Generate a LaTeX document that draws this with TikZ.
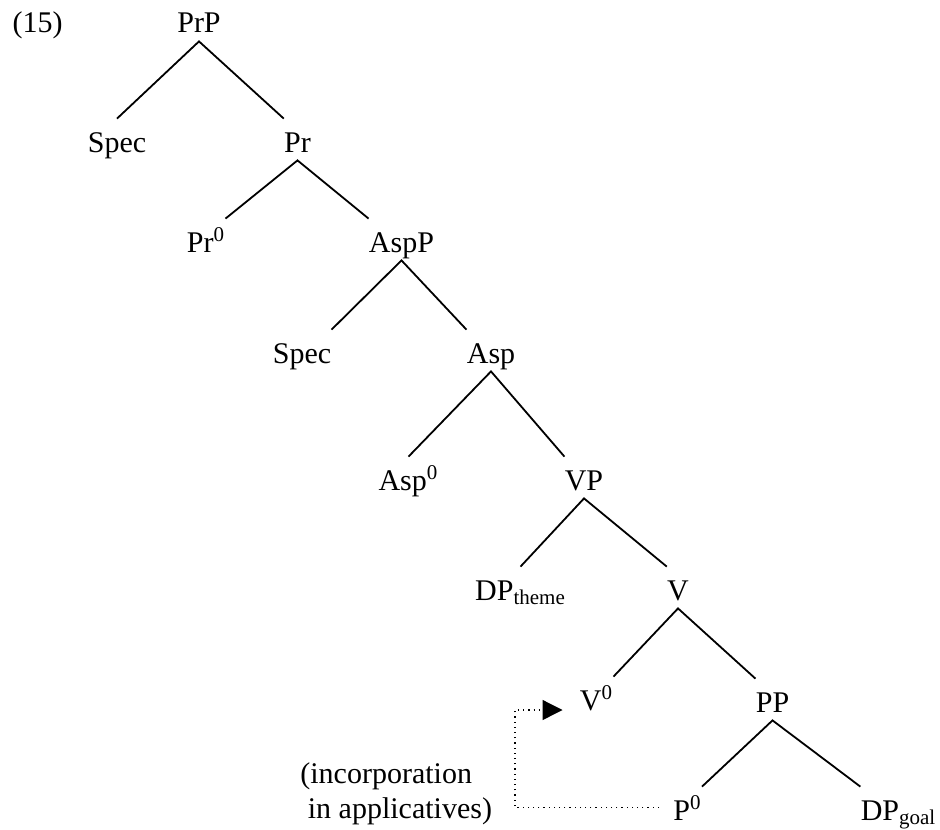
\documentclass[tikz,border=0pt]{standalone}
\usepackage{fontspec}
\setmainfont{Liberation Serif}
\usetikzlibrary{arrows.meta}
\tikzset{
	lbl/.style={font=\fontsize{15}{17.5}\selectfont, inner xsep=0pt, inner ysep=0.5pt,
		text height=16pt, text depth=3.5pt, anchor=base},
	branch/.style={line width=0.9pt},
	move/.style={dotted, line width=0.6pt, -{Triangle[length=10pt,width=10pt]}}
}
\begin{document}
\begin{tikzpicture}[x=0.5pt,y=-0.5pt]
\useasboundingbox (0,0) rectangle (940,829);

%Numero de l'exemple
\node[lbl] (exnum) at (37.5,33) {(15)};

%Noeuds de l'arbre
\node[lbl] (PrP) at (199,33) {PrP};
\node[lbl] (SpecA) at (117,152) {Spec};
\node[lbl] (Pr) at (297.5,152) {Pr};
\node[lbl] (PrO) at (206,252) {Pr\textsuperscript{0}};
\node[lbl] (AspP) at (401.5,252) {AspP};
\node[lbl] (SpecB) at (302,363) {Spec};
\node[lbl] (Asp) at (491,363) {Asp};
\node[lbl] (AspO) at (408.5,490) {Asp\textsuperscript{0}};
\node[lbl] (VP) at (584,490) {VP};
\node[lbl] (DPt) at (520.5,600) {DP\textsubscript{theme}};
\node[lbl] (V) at (678,600) {V};
\node[lbl] (VO) at (596.5,710) {V\textsuperscript{0}};
\node[lbl] (PP) at (772.5,712) {PP};
\node[lbl] (PO) at (687.5,820) {P\textsuperscript{0}};
\node[lbl] (DPg) at (898.5,820) {DP\textsubscript{goal}};

%Branches
\draw[branch] (SpecA.north) -- (PrP.south) -- (Pr.north west);
\draw[branch] (PrO.north east) -- (Pr.south) -- (AspP.north west);
\draw[branch] (SpecB.north east) -- (AspP.south) -- (Asp.north west);
\draw[branch] (AspO.north) -- (Asp.south) -- (VP.north west);
\draw[branch] (DPt.north) -- (VP.south) -- (V.north west);
\draw[branch] (VO.north east) -- (V.south) -- (PP.north west);
\draw[branch] (PO.north east) -- (PP.south) -- (DPg.north west);

%Incorporation
\node[font=\fontsize{15}{17.5}\selectfont, align=left, inner sep=0pt, anchor=base west] (incorp) at (300,818)
	{(incorporation\\\ in applicatives)};
\coordinate (turn) at (515,710);
\draw[move, shorten <=7pt, shorten >=8.5pt] (PO.west) -| (turn) -- (VO.base west);

\end{tikzpicture}
\end{document}
